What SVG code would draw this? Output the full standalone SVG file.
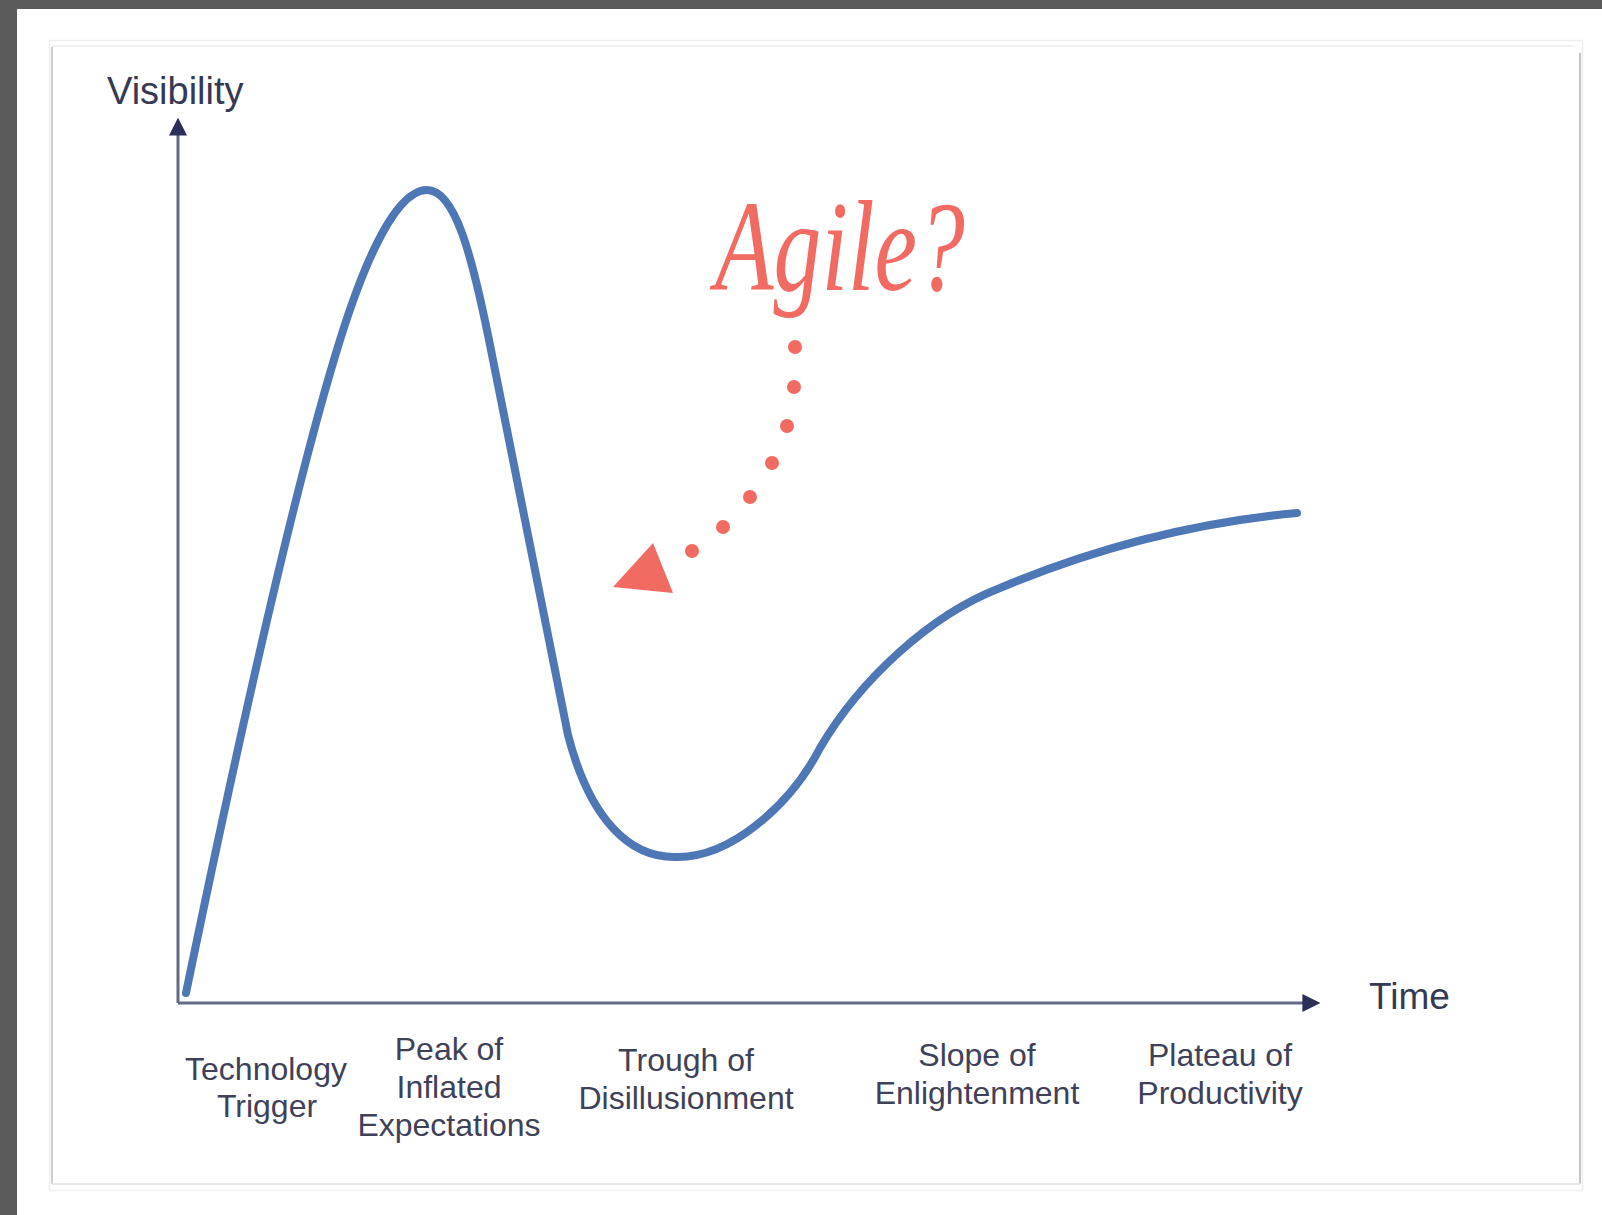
<svg xmlns="http://www.w3.org/2000/svg" width="1602" height="1215" viewBox="0 0 1602 1215">
  <style>
    .lbl { font-family: "Liberation Sans", Arial, sans-serif; font-size: 32px; fill: #3e4158; text-anchor: middle; }
    .axlbl { font-family: "Liberation Sans", Arial, sans-serif; font-size: 38px; fill: #363952; }
    .axis { stroke: #646985; stroke-width: 3; fill: none; }
    .curve { stroke: #4d77b5; stroke-width: 8; fill: none; stroke-linecap: round; stroke-linejoin: round; }
    .dot { fill: #f26b63; }
  </style>
  <defs>
    <marker id="axArrow" viewBox="0 0 10 10" refX="2" refY="5" markerWidth="6" markerHeight="6" orient="auto" markerUnits="strokeWidth">
      <path d="M0,0 L10,5 L0,10 Z" fill="#2c2f5a"/>
    </marker>
  </defs>
  <rect x="0" y="0" width="1602" height="1215" fill="#ffffff"/>
  <rect x="0" y="0" width="1602" height="9" fill="#5a5a5a"/>
  <rect x="0" y="0" width="17" height="1215" fill="#5a5a5a"/>
  <g id="frame">
    <rect x="49.5" y="40.5" width="1533" height="1150" fill="none" stroke="#eeeeee" stroke-width="1.5"/>
    <line x1="52" y1="47" x2="52" y2="1184" stroke="#cdcdcd" stroke-width="2"/>
    <line x1="1580" y1="53" x2="1580" y2="1184" stroke="#c4c4c4" stroke-width="2"/>
    <line x1="52" y1="46" x2="1574" y2="46" stroke="#f2f2f2" stroke-width="2"/>
    <line x1="52" y1="1184" x2="1580" y2="1184" stroke="#e8e8e8" stroke-width="2"/>
  </g>
  <g id="connectors">
    <line class="axis" x1="178" y1="1003" x2="178" y2="132" marker-end="url(#axArrow)"/>
    <line class="axis" x1="178" y1="1003" x2="1306" y2="1003" marker-end="url(#axArrow)"/>
    <path id="hype-curve" class="curve" d="M186,993 C230,780 290,500 340,340 C355,292 390,190 427,190 C455,190 472,255 490,345 C515,470 545,620 568,735 C590,820 630,858 676,857 C730,858 790,806 820,748 C860,680 930,615 1000,588 C1100,546 1200,522 1297,513"/>
    <g id="dotted-arrow">
      <circle class="dot" cx="795" cy="347" r="7"/>
      <circle class="dot" cx="794" cy="387" r="7"/>
      <circle class="dot" cx="787" cy="426" r="7"/>
      <circle class="dot" cx="772" cy="463" r="7"/>
      <circle class="dot" cx="750" cy="497" r="7"/>
      <circle class="dot" cx="723" cy="527" r="7"/>
      <circle class="dot" cx="692" cy="551" r="7"/>
      <polygon class="dot" points="653,543 613,587 673,593"/>
    </g>
  </g>
  <g id="axis-labels">
    <text class="axlbl" x="107" y="104">Visibility</text>
    <text class="axlbl" x="1369" y="1009" style="font-size:37px">Time</text>
  </g>
  <g id="agile">
    <text x="715" y="290" font-family="'Liberation Serif', 'DejaVu Serif', serif" font-style="italic" font-size="130" fill="#f26b63" textLength="250" lengthAdjust="spacingAndGlyphs">Agile?</text>
  </g>
  <g id="phase-technology-trigger">
    <text class="lbl" x="266" y="1080">Technology</text>
    <text class="lbl" x="267" y="1117">Trigger</text>
  </g>
  <g id="phase-peak">
    <text class="lbl" x="449" y="1060">Peak of</text>
    <text class="lbl" x="449" y="1098">Inflated</text>
    <text class="lbl" x="449" y="1136">Expectations</text>
  </g>
  <g id="phase-trough">
    <text class="lbl" x="686" y="1071">Trough of</text>
    <text class="lbl" x="686" y="1109">Disillusionment</text>
  </g>
  <g id="phase-slope">
    <text class="lbl" x="977" y="1066">Slope of</text>
    <text class="lbl" x="977" y="1104">Enlightenment</text>
  </g>
  <g id="phase-plateau">
    <text class="lbl" x="1220" y="1066">Plateau of</text>
    <text class="lbl" x="1220" y="1104">Productivity</text>
  </g>
</svg>
